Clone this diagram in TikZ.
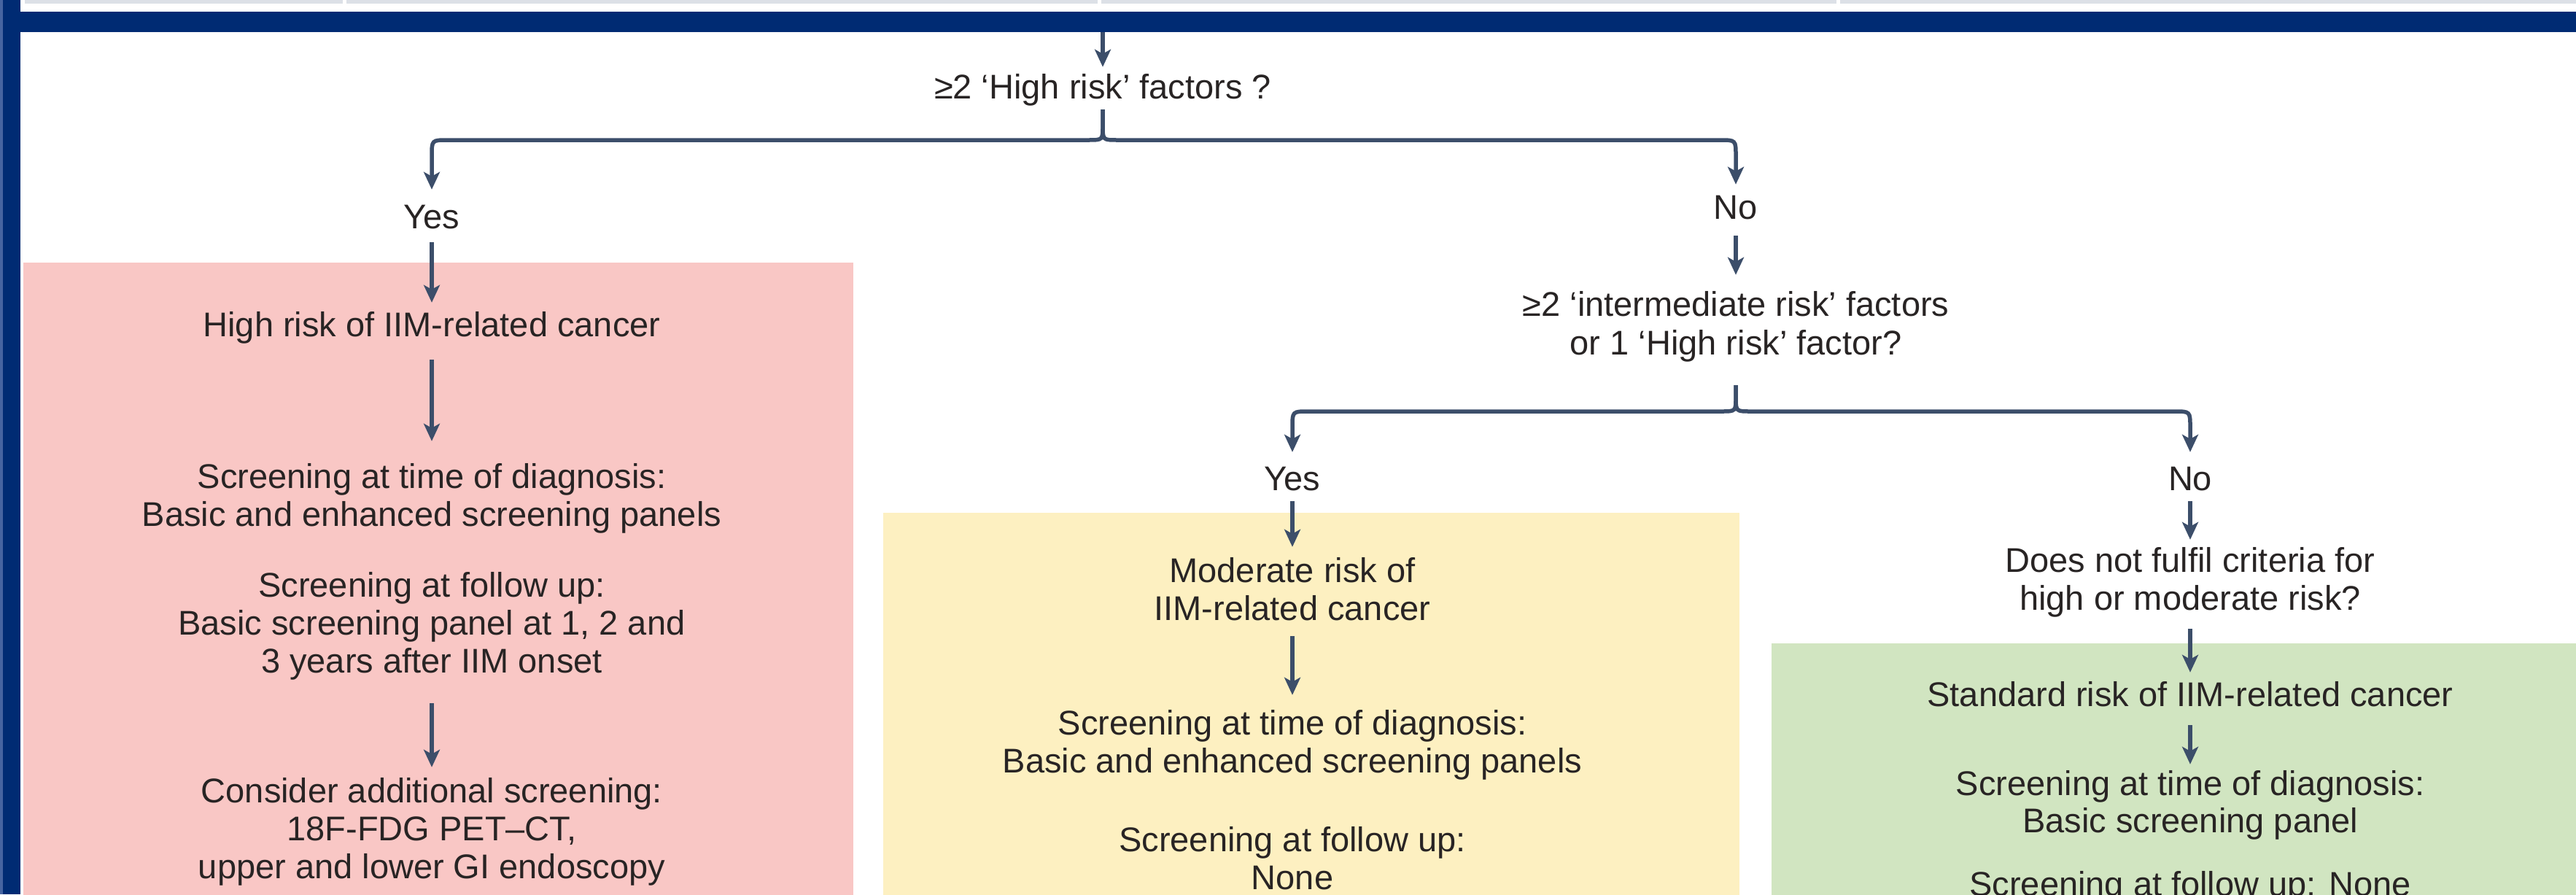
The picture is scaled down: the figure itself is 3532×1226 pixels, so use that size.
\documentclass[tikz,border=0pt]{standalone}
\usepackage{fontspec}
\setmainfont{Liberation Sans}
\usetikzlibrary{arrows.meta}
\definecolor{navy}{RGB}{0,43,115}
\definecolor{navylt}{RGB}{70,100,160}
\definecolor{linec}{RGB}{60,78,106}
\definecolor{redbox}{RGB}{249,199,197}
\definecolor{yelbox}{RGB}{253,240,193}
\definecolor{grnbox}{RGB}{209,229,193}
\definecolor{txt}{RGB}{40,36,36}
\definecolor{stripg}{RGB}{220,224,231}
\begin{document}
\begin{tikzpicture}[x=1pt,y=-1pt,
  lbl/.style={font=\fontsize{47}{53}\selectfont, text=txt, inner sep=0pt, anchor=base, text height=34pt, text depth=10pt},
  conn/.style={draw=linec, line width=5.5pt, -{Stealth[length=24pt,width=22pt,inset=6pt]}},
  panel/.style={inner sep=0pt, anchor=north west, draw=none}
]
\useasboundingbox (0,0) rectangle (3532,1226);
\clip (0,0) rectangle (3532,1226);
\fill[white] (0,0) rectangle (3532,1226);

% top strip remnants
\fill[stripg] (34,0) rectangle (470,5);
\fill[stripg] (475,0) rectangle (1505,5);
\fill[stripg] (1510,0) rectangle (2518,5);
\fill[stripg] (2523,0) rectangle (3532,5);

% frame
\node[panel, fill=navy, minimum width=3532pt, minimum height=28pt] (band) at (0,16) {};
\fill[navylt] (0,0) rectangle (4,1226);
\fill[navy] (4,0) rectangle (28,1226);

% coloured panels
\node[panel, fill=redbox, minimum width=1138pt, minimum height=880pt] (redpanel) at (32,360) {};
\node[panel, fill=yelbox, minimum width=1174pt, minimum height=540pt] (yelpanel) at (1211,703) {};
\node[panel, fill=grnbox, minimum width=1110pt, minimum height=360pt] (grnpanel) at (2429,882) {};

% texts
\node[lbl] (q1) at (1512,135) {≥2 ‘High risk’ factors ?};
\node[lbl] (yes1) at (592,313) {Yes};
\node[lbl] (no1) at (2380,300) {No};

\node[lbl] (high) at (592,461) {High risk of IIM-related cancer};
\node[lbl] (r1a) at (592,669) {Screening at time of diagnosis:};
\node[lbl] (r1b) at (592,721) {Basic and enhanced screening panels};
\node[lbl] (r2a) at (592,818) {Screening at follow up:};
\node[lbl] (r2b) at (592,870) {Basic screening panel at 1, 2 and};
\node[lbl] (r2c) at (592,922) {3 years after IIM onset};
\node[lbl] (r3a) at (592,1100) {Consider additional screening:};
\node[lbl] (r3b) at (592,1152) {18F-FDG PET–CT,};
\node[lbl] (r3c) at (592,1204) {upper and lower GI endoscopy};

\node[lbl] (q2a) at (2380,433) {≥2 ‘intermediate risk’ factors};
\node[lbl] (q2b) at (2380,486) {or 1 ‘High risk’ factor?};
\node[lbl] (yes2) at (1772,672) {Yes};
\node[lbl] (no2) at (3003,672) {No};

\node[lbl] (mod1) at (1772,798) {Moderate risk of};
\node[lbl] (mod2) at (1772,850) {IIM-related cancer};
\node[lbl] (y1a) at (1772,1007) {Screening at time of diagnosis:};
\node[lbl] (y1b) at (1772,1059) {Basic and enhanced screening panels};
\node[lbl] (y2a) at (1772,1167) {Screening at follow up:};
\node[lbl] (y2b) at (1772,1219) {None};

\node[lbl] (dn1) at (3003,784) {Does not fulfil criteria for};
\node[lbl] (dn2) at (3003,836) {high or moderate risk?};
\node[lbl] (std) at (3003,968) {Standard risk of IIM-related cancer};
\node[lbl] (g1a) at (3003,1090) {Screening at time of diagnosis:};
\node[lbl] (g1b) at (3003,1141) {Basic screening panel};
\node[lbl] (g2) at (3003,1228) {Screening at follow up: None};

% connectors
\draw[conn, shorten >=9pt] (q1.north |- band.south) -- (q1.north);

% first brace
\draw[conn, shorten <=5pt, shorten >=19pt] (q1.south) -- (1512,172) .. controls (1512,192) .. (1492,192)
  -- (614,192) .. controls (592,192) .. (592,214) -- (yes1.north);
\draw[conn, shorten <=5pt, shorten >=13pt] (q1.south) -- (1512,172) .. controls (1512,192) .. (1532,192)
  -- (2358,192) .. controls (2380,192) .. (2380,214) -- (no1.north);

% red column
\draw[conn, shorten <=9pt, shorten >=12pt] (yes1.south) -- (high.north);
\draw[conn, shorten <=22pt, shorten >=30pt] (high.south) -- (r1a.north);
\draw[conn, shorten <=32pt, shorten >=14pt] (r2c.south) -- (r3a.north);

% second question
\draw[conn, shorten <=13pt, shorten >=22pt] (no1.south) -- (q2a.north);
\draw[conn, shorten <=32pt, shorten >=18pt] (q2b.south) -- (2380,544) .. controls (2380,564) .. (2360,564)
  -- (1794,564) .. controls (1772,564) .. (1772,586) -- (yes2.north);
\draw[conn, shorten <=32pt, shorten >=18pt] (q2b.south) -- (2380,544) .. controls (2380,564) .. (2400,564)
  -- (2981,564) .. controls (3003,564) .. (3003,586) -- (no2.north);

% yellow column
\draw[conn, shorten <=5pt, shorten >=14pt] (yes2.south) -- (mod1.north);
\draw[conn, shorten <=12pt, shorten >=20pt] (mod2.south) -- (y1a.north);

% green column
\draw[conn, shorten <=5pt, shorten >=10pt] (no2.south) -- (dn1.north);
\draw[conn, shorten <=16pt, shorten >=12pt] (dn2.south) -- (std.north);
\draw[conn, shorten <=16pt, shorten >=8pt] (std.south) -- (g1a.north);
\end{tikzpicture}
\end{document}
